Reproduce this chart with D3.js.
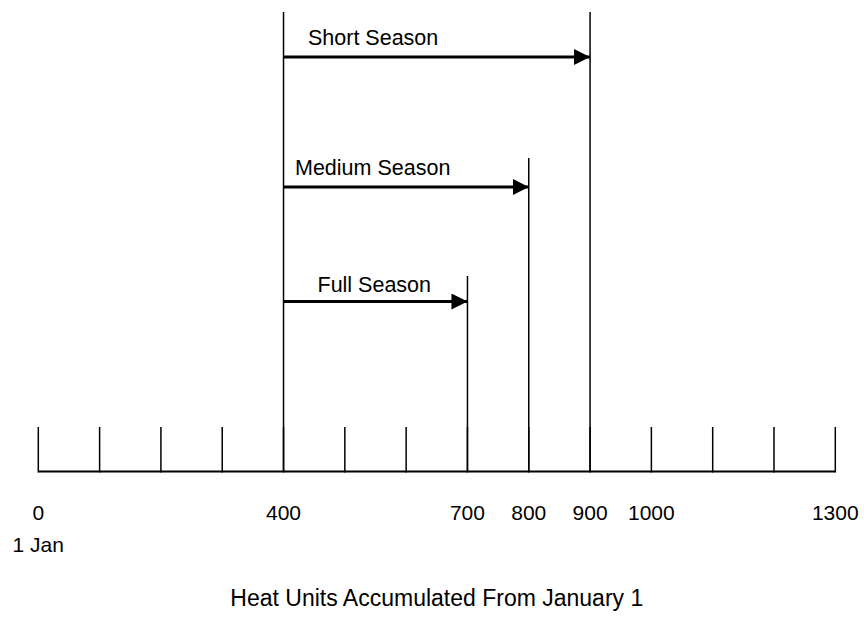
<!DOCTYPE html>
<html>
<head>
<meta charset="utf-8">
<script src="https://cdn.jsdelivr.net/npm/d3@7"></script>
<style>
  body { margin: 0; background: #fff; }
  text { font-family: "Liberation Sans", Arial, sans-serif; fill: #000; }
</style>
</head>
<body>
<script>
var width = 864;
var height = 618;

// data
var tickValues = [0, 100, 200, 300, 400, 500, 600, 700, 800, 900, 1000, 1100, 1200, 1300];
var labelValues = [0, 400, 700, 800, 900, 1000, 1300];
var seasonNames = ["Short Season", "Medium Season", "Full Season"];
var seasonStart = 400;
var seasonEnd = [900, 800, 700];
var axisTitle = "Heat Units Accumulated From January 1";
var startLabel = "1 Jan";

// layout
var axisY = 471.5;
var tickTop = 427;
var lineTop = [12, 158, 276];      // top of the vertical line at each season end
var arrowY = [57, 187, 301.5];
var labelY = [45, 175, 292];
var labelX = [308, 295, 317.5];

var x = d3.scaleLinear().domain([0, 1300]).range([38.3, 835.3]);

var svg = d3.select("body").append("svg")
  .attr("width", width)
  .attr("height", height);

svg.append("defs").append("marker")
  .attr("id", "head")
  .attr("viewBox", "0 0 16 16")
  .attr("refX", 16)
  .attr("refY", 8)
  .attr("markerWidth", 16)
  .attr("markerHeight", 16)
  .attr("markerUnits", "userSpaceOnUse")
  .attr("orient", "auto")
  .append("path")
  .attr("d", "M0,0L16,8L0,16Z")
  .attr("fill", "#000");

// axis baseline and ticks
svg.append("line")
  .attr("x1", x(0)).attr("x2", x(1300))
  .attr("y1", axisY).attr("y2", axisY)
  .attr("stroke", "#000").attr("stroke-width", 2);

svg.selectAll(".tick")
  .data(tickValues)
  .enter().append("line")
  .attr("class", "tick")
  .attr("x1", d => x(d)).attr("x2", d => x(d))
  .attr("y1", tickTop).attr("y2", axisY + 1)
  .attr("stroke", "#000").attr("stroke-width", 1.5);

svg.selectAll(".tlabel")
  .data(labelValues)
  .enter().append("text")
  .attr("class", "tlabel")
  .attr("x", d => x(d))
  .attr("y", 520)
  .attr("text-anchor", "middle")
  .style("font-size", "21px")
  .text(d => d);

svg.append("text")
  .attr("x", x(0))
  .attr("y", 552)
  .attr("text-anchor", "middle")
  .style("font-size", "21px")
  .text(startLabel);

svg.append("text")
  .attr("x", (x(0) + x(1300)) / 2)
  .attr("y", 606)
  .attr("text-anchor", "middle")
  .style("font-size", "23px")
  .text(axisTitle);

// start line at 400
svg.append("line")
  .attr("x1", x(seasonStart)).attr("x2", x(seasonStart))
  .attr("y1", d3.min(lineTop)).attr("y2", axisY)
  .attr("stroke", "#000").attr("stroke-width", 1.5);

// season end lines, arrows, labels
var g = svg.selectAll(".season")
  .data(seasonNames)
  .enter().append("g")
  .attr("class", "season");

g.append("line")
  .attr("x1", (d, i) => x(seasonEnd[i])).attr("x2", (d, i) => x(seasonEnd[i]))
  .attr("y1", (d, i) => lineTop[i]).attr("y2", axisY)
  .attr("stroke", "#000").attr("stroke-width", 1.5);

g.append("line")
  .attr("x1", x(seasonStart))
  .attr("x2", (d, i) => x(seasonEnd[i]))
  .attr("y1", (d, i) => arrowY[i]).attr("y2", (d, i) => arrowY[i])
  .attr("stroke", "#000").attr("stroke-width", 3)
  .attr("marker-end", "url(#head)");

g.append("text")
  .attr("x", (d, i) => labelX[i])
  .attr("y", (d, i) => labelY[i])
  .style("font-size", "21.5px")
  .text(d => d);
</script>
</body>
</html>
